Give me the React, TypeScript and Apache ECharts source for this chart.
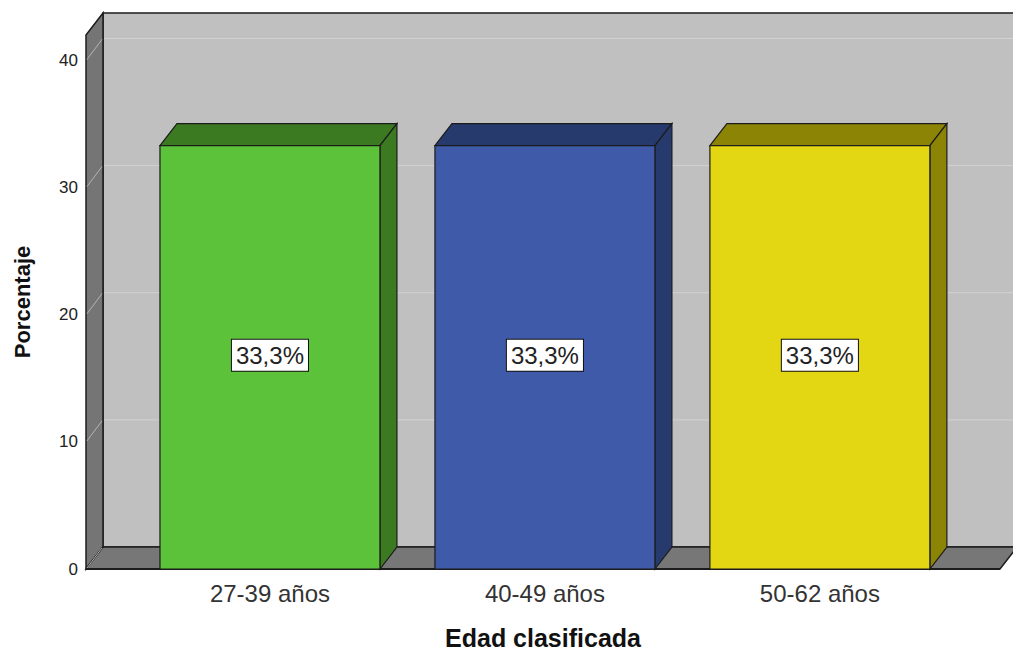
import React, { useEffect, useRef } from "react";
import * as echarts from "echarts";

// Age groups and their share of respondents (%)
const categories = ["27-39 años", "40-49 años", "50-62 años"];
const percentages = [33.3, 33.3, 33.3];
const frontColors = ["#5cc23a", "#3e5aa8", "#e3d612"];
const shadeColors = ["#3b7a21", "#263a6e", "#8c8405"];
const yTicks = [0, 10, 20, 30, 40];

const FONT = "'Liberation Sans', Arial, sans-serif";
// oblique depth of the 3D projection
const DX = 17;
const DY = -22;
const EDGE = "#1c1c1c";

const fmtPct = (v: number) => v.toFixed(1).replace(".", ",") + "%";

export default function App() {
  const ref = useRef<HTMLDivElement>(null);

  useEffect(() => {
    if (!ref.current) return;
    const chart = echarts.init(ref.current, null, { renderer: "svg" });

    const renderBox = (params: any, api: any) => {
      const cs = params.coordSys;
      const gx = cs.x;
      const gy = cs.y;
      const gw = cs.width;
      const gh = cs.height;
      const bottom = gy + gh;
      const children: any[] = [];
      // back wall
      children.push({
        type: "rect",
        shape: { x: gx + DX, y: gy + DY, width: gw, height: gh },
        style: { fill: "#c0c0c0", stroke: EDGE, lineWidth: 1.5 },
      });
      // left wall
      children.push({
        type: "polygon",
        shape: {
          points: [
            [gx, gy],
            [gx + DX, gy + DY],
            [gx + DX, bottom + DY],
            [gx, bottom],
          ],
        },
        style: { fill: "#757575", stroke: EDGE, lineWidth: 1.5 },
      });
      // floor
      children.push({
        type: "polygon",
        shape: {
          points: [
            [gx, bottom],
            [gx + DX, bottom + DY],
            [gx + gw + DX, bottom + DY],
            [gx + gw, bottom],
          ],
        },
        style: { fill: "#777777", stroke: EDGE, lineWidth: 1.5 },
      });
      // grid lines on the walls
      yTicks.forEach((t) => {
        const yv = api.coord([0, t])[1];
        children.push({
          type: "line",
          shape: { x1: gx + 1, y1: yv - 1, x2: gx + DX - 1, y2: yv + DY + 1 },
          style: { stroke: "#b4b4b4", lineWidth: 1 },
        });
        if (t > 0) {
          children.push({
            type: "line",
            shape: { x1: gx + DX + 1, y1: yv + DY, x2: gx + gw + DX, y2: yv + DY },
            style: { stroke: "#d2d2d2", lineWidth: 1 },
          });
        }
      });
      // front floor edge
      children.push({
        type: "line",
        shape: { x1: gx, y1: bottom, x2: gx + gw, y2: bottom },
        style: { stroke: EDGE, lineWidth: 2 },
      });
      return { type: "group", children };
    };

    const renderBar = (params: any, api: any) => {
      const i = api.value(0);
      const v = api.value(1);
      const top = api.coord([i, v]);
      const base = api.coord([i, 0]);
      const w = api.size([0.8, 0])[0];
      const x = top[0] - w / 2;
      const y = top[1];
      const h = base[1] - top[1];
      const idx = params.dataIndex;
      const face = frontColors[idx];
      const shade = shadeColors[idx];
      return {
        type: "group",
        children: [
          {
            type: "polygon",
            shape: {
              points: [
                [x, y],
                [x + DX, y + DY],
                [x + w + DX, y + DY],
                [x + w, y],
              ],
            },
            style: { fill: shade, stroke: EDGE, lineWidth: 1.2 },
          },
          {
            type: "polygon",
            shape: {
              points: [
                [x + w, y],
                [x + w + DX, y + DY],
                [x + w + DX, y + h + DY],
                [x + w, y + h],
              ],
            },
            style: { fill: shade, stroke: EDGE, lineWidth: 1.2 },
          },
          {
            type: "rect",
            shape: { x, y, width: w, height: h },
            style: { fill: face, stroke: EDGE, lineWidth: 1.2 },
          },
          {
            type: "text",
            x: top[0],
            y: y + h / 2 - 2,
            style: {
              text: fmtPct(v),
              fontFamily: FONT,
              fontSize: 24,
              fill: "#222",
              align: "center",
              verticalAlign: "middle",
              backgroundColor: "#ffffff",
              borderColor: "#111",
              borderWidth: 1,
              padding: [4, 4, 3, 4],
            },
          },
        ],
      };
    };

    chart.setOption({
      animation: false,
      backgroundColor: "#ffffff",
      grid: { left: 86, right: 13, top: 35, bottom: 85 },
      xAxis: {
        type: "value",
        min: -0.669,
        max: 2.655,
        axisLine: { show: false },
        axisTick: { show: false },
        splitLine: { show: false },
        axisLabel: {
          customValues: [0, 1, 2],
          formatter: (val: number) => categories[Math.round(val)] ?? "",
          fontFamily: FONT,
          fontSize: 24,
          color: "#333",
          margin: 12,
        },
        name: "Edad clasificada",
        nameLocation: "middle",
        nameGap: 56,
        nameTextStyle: {
          fontFamily: FONT,
          fontSize: 25,
          fontWeight: "bold",
          color: "#111",
        },
      },
      yAxis: {
        type: "value",
        min: 0,
        max: 42,
        interval: 10,
        axisLine: { show: false },
        axisTick: { show: false },
        splitLine: { show: false },
        axisLabel: {
          fontFamily: FONT,
          fontSize: 17,
          color: "#222",
          margin: 8,
          padding: [4, 0, 0, 0],
          showMaxLabel: false,
        },
        name: "Porcentaje",
        nameLocation: "middle",
        nameRotate: 90,
        nameGap: 53,
        nameTextStyle: {
          fontFamily: FONT,
          fontSize: 22,
          fontWeight: "bold",
          color: "#111",
        },
      },
      series: [
        {
          type: "custom",
          renderItem: renderBox,
          data: [[0, 0]],
          clip: false,
          silent: true,
          z: 1,
        },
        {
          type: "custom",
          renderItem: renderBar,
          data: percentages.map((p, i) => [i, p]),
          encode: { x: 0, y: 1 },
          clip: false,
          z: 2,
        },
      ],
    });

    return () => chart.dispose();
  }, []);

  return (
    <div
      ref={ref}
      style={{ position: "fixed", left: 0, top: 0, width: 1013, height: 655 }}
    />
  );
}
